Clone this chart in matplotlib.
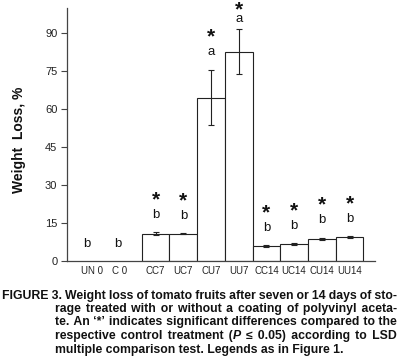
import matplotlib
matplotlib.use("Agg")
import matplotlib.pyplot as plt

# ---------------------------------------------------------------------------
# Dados
# ---------------------------------------------------------------------------
rotulos = ["UN 0", "C 0", "CC7", "UC7", "CU7", "UU7", "CC14", "UC14", "CU14", "UU14"]
perda_peso = [0.0, 0.0, 10.6, 10.7, 64.5, 82.6, 5.8, 6.6, 8.6, 9.3]
erro_padrao = [0.0, 0.0, 0.6, 0.3, 11.0, 8.8, 0.3, 0.3, 0.5, 0.3]
letras = ["b", "b", "b", "b", "a", "a", "b", "b", "b", "b"]
significativo = [False, False, True, True, True, True, True, True, True, True]
yticks = [0, 15, 30, 45, 60, 75, 90]

# legenda: "|" marca trecho em itálico
legenda = [
    "FIGURE 3. Weight loss of tomato fruits after seven or 14 days of sto-",
    "rage treated with or without a coating of polyvinyl aceta-",
    "te. An \u2018*\u2019 indicates significant differences compared to the",
    "respective control treatment (|P| \u2264 0.05) according to LSD",
    "multiple comparison test. Legends as in Figure 1.",
]

# ---------------------------------------------------------------------------
# Figura
# ---------------------------------------------------------------------------
W, H = 399, 360
fig = plt.figure(figsize=(W / 100, H / 100), dpi=100)
plt.rcParams["font.family"] = ["Liberation Sans", "DejaVu Sans"]
renderer = fig.canvas.get_renderer()

ax = fig.add_axes([67 / W, 99.3 / H, 308 / W, 253 / H])

# posições: UN 0 e C 0 sem barra, depois 8 barras contíguas
pos_barras = [3.2 + i for i in range(8)]
pos_letras = [0.72, 1.84] + pos_barras
pos_rotulos = [0.9, 1.88] + pos_barras

ax.bar(pos_barras, perda_peso[2:], width=1.0, color="white",
       edgecolor="#222222", linewidth=0.8, zorder=2)
ax.errorbar(pos_barras, perda_peso[2:], yerr=erro_padrao[2:], fmt="none",
            ecolor="#222222", elinewidth=0.8, capsize=2.5, capthick=0.8, zorder=3)

for x, v, e, l, s in zip(pos_letras, perda_peso, erro_padrao, letras, significativo):
    topo = v + e
    gap = min(6.8, (100 - topo) / 2.0) if topo > 0 else 6.5
    y_letra = topo + gap if topo > 0 else 6.5
    ax.text(x, y_letra, l, ha="center", va="center", fontsize=9.5, color="#111111")
    if s:
        ax.text(x, y_letra + gap - 0.8, "*", ha="center", va="center",
                fontsize=15, fontweight="bold", color="#111111", clip_on=False)

ax.set_xlim(0, 11.12)
ax.set_ylim(0, 100)
ax.set_yticks(yticks)
ax.set_yticklabels([str(t) for t in yticks], fontsize=8, color="#222222")
ax.tick_params(axis="y", direction="out", length=4, width=0.8, color="#444444", pad=3)
ax.set_xticks(pos_rotulos)
ax.set_xticklabels(rotulos, fontsize=7, color="#222222")
ax.tick_params(axis="x", length=0, pad=4)

for lado in ["top", "right"]:
    ax.spines[lado].set_visible(False)
for lado in ["left", "bottom"]:
    ax.spines[lado].set_color("#444444")
    ax.spines[lado].set_linewidth(0.9)

fig.text(19 / W, 1 - 140 / H, "Weight  Loss, %", rotation=90, ha="center",
         va="center", fontsize=10, fontweight="bold", color="#111111")

# ---------------------------------------------------------------------------
# Legenda da figura: texto justificado, uma string por trecho
# (espaços unicode de larguras diferentes mantêm a linha de base única)
# ---------------------------------------------------------------------------
fs = 8.8


def largura(txt, estilo="normal"):
    t = fig.text(0, 0, txt, fontsize=fs, fontweight="bold", style=estilo)
    w = t.get_window_extent(renderer).width
    t.remove()
    return w


base_xx = largura("xx")
w_sp = largura("x x") - base_xx
extras = {}
for c in ["\u2009", "\u2006", "\u200a", "\u2005", "\u2008"]:
    wc = (largura("x" + c * 4 + "x") - base_xx) / 4
    if wc > 0.3:
        extras[c] = wc


def espacos(g):
    melhor, erro = " ", abs(w_sp - g)
    for k in range(0, 3):
        for c, wc in extras.items():
            for m in range(0, 4):
                e = abs(k * w_sp + m * wc - g)
                if e < erro and k + m > 0:
                    melhor, erro = " " * k + c * m, e
    return melhor


def linha(txt, x_esq, x_dir, y_base, justificar=True):
    palavras = []
    for p in txt.split(" "):
        segs = p.split("|")
        palavras.append([(sg, "italic" if i % 2 else "normal")
                         for i, sg in enumerate(segs) if sg])
    larg = [sum(largura(sg, es) for sg, es in p) for p in palavras]
    if justificar and len(palavras) > 1:
        G = (x_dir - x_esq - sum(larg)) / (len(palavras) - 1)
    else:
        G = w_sp
    # trechos: [texto, estilo, x inicial, aceita junção]
    trechos = []
    x = x_esq
    for p, w in zip(palavras, larg):
        xx = x
        for j, (sg, es) in enumerate(p):
            if j == 0 and trechos and trechos[-1][1] == es and trechos[-1][3]:
                txt0, es0, x0, _ = trechos[-1]
                g = xx - (x0 + largura(txt0, es0))
                trechos[-1] = [txt0 + espacos(g) + sg, es0, x0, True]
            else:
                trechos.append([sg, es, xx, True])
            xx += largura(sg, es)
            if j < len(p) - 1:
                trechos[-1][3] = False
        trechos[-1][3] = True
        x += w + G
    for sg, es, x0, _ in trechos:
        fig.text(x0 / W, 1 - y_base / H, sg, ha="left", va="baseline", fontsize=fs,
                 fontweight="bold", style=es, color="#111111")


linhas_base = [298.5, 312, 325.5, 339, 352.5]
linha(legenda[0], 2, 397, linhas_base[0])
for txt, yy in zip(legenda[1:4], linhas_base[1:4]):
    linha(txt, 55, 397, yy)
linha(legenda[4], 55, 397, linhas_base[4], justificar=False)

fig.savefig("out.png", dpi=100)
